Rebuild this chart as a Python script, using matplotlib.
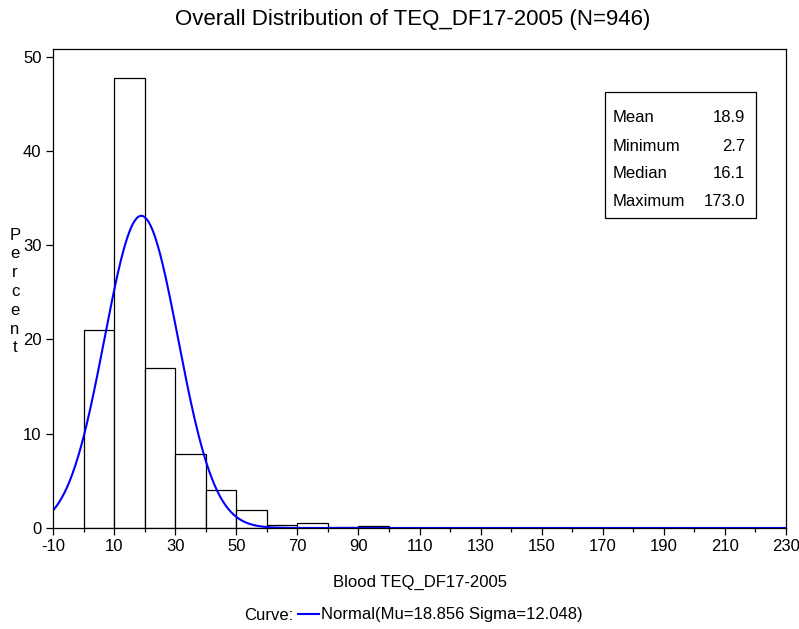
import numpy as np
import matplotlib.pyplot as plt
from matplotlib.ticker import MultipleLocator

plt.rcParams['font.family'] = ['Liberation Sans', 'DejaVu Sans']
plt.rcParams['axes.unicode_minus'] = False

# histogram bins (lower edge, width 10) and percent heights
bin_left = [0, 10, 20, 30, 40, 50, 60, 70, 80, 90]
percent = [21.0, 47.7, 17.0, 7.8, 4.0, 1.9, 0.3, 0.5, 0.1, 0.2]
bin_width = 10

# fitted normal curve parameters
mu = 18.856
sigma = 12.048

stat_names = ['Mean', 'Minimum', 'Median', 'Maximum']
stat_values = ['18.9', '2.7', '16.1', '173.0']

fs = 12

fig = plt.figure(figsize=(7.99, 6.29), dpi=100)
ax = fig.add_axes([0.066, 0.1606, 0.918, 0.7614])

ax.bar(bin_left, percent, width=bin_width, align='edge',
       facecolor='white', edgecolor='black', linewidth=0.9)

xs = np.linspace(-10, 230, 800)
ys = 100 * bin_width * np.exp(-0.5 * ((xs - mu) / sigma) ** 2) / (sigma * np.sqrt(2 * np.pi))
ax.plot(xs, ys, color='#0000ff', linewidth=1.5)

ax.set_xlim(-10.15, 230.1)
ax.set_ylim(0, 50.8)
ax.set_xticks(np.arange(-10, 231, 20))
ax.xaxis.set_minor_locator(MultipleLocator(10))
ax.set_yticks([0, 10, 20, 30, 40, 50])
ax.tick_params(axis='both', which='major', direction='out', length=5, width=0.9,
               labelsize=fs, pad=3)
ax.tick_params(axis='x', which='minor', direction='out', length=3, width=0.9)
for s in ax.spines.values():
    s.set_linewidth(0.9)

fig.text(413 / 799, 1 - 19 / 629, 'Overall Distribution of TEQ_DF17-2005 (N=946)',
         ha='center', va='center', fontsize=16)
fig.text(420 / 799, 1 - 582 / 629, 'Blood TEQ_DF17-2005', ha='center', va='center', fontsize=fs)

# vertical stacked y label, one letter per line
for i, ch in enumerate('Percent'):
    fig.text(15 / 799, 1 - (235 + 18.8 * i) / 629, ch, ha='center', va='center', fontsize=fs)

# legend row
fig.text(293 / 799, 1 - 615 / 629, 'Curve:', ha='right', va='center', fontsize=fs)
fig.lines.append(plt.Line2D([298 / 799, 319 / 799], [1 - 614 / 629, 1 - 614 / 629],
                            color='#0000ff', linewidth=1.5, transform=fig.transFigure))
fig.text(321 / 799, 1 - 615 / 629, 'Normal(Mu=%.3f Sigma=%.3f)' % (mu, sigma),
         ha='left', va='center', fontsize=fs)

# stats box
box_l, box_r, box_t, box_b = 605, 756, 92, 218
fig.patches.append(plt.Rectangle((box_l / 799, 1 - box_b / 629),
                                 (box_r - box_l) / 799, (box_b - box_t) / 629,
                                 fill=False, edgecolor='black', linewidth=0.9,
                                 transform=fig.transFigure))
for i, (n, v) in enumerate(zip(stat_names, stat_values)):
    y = 1 - (118 + 28 * i) / 629
    fig.text(613 / 799, y, n, ha='left', va='center', fontsize=fs)
    fig.text(745 / 799, y, v, ha='right', va='center', fontsize=fs)

fig.savefig('out.png', dpi=100)
